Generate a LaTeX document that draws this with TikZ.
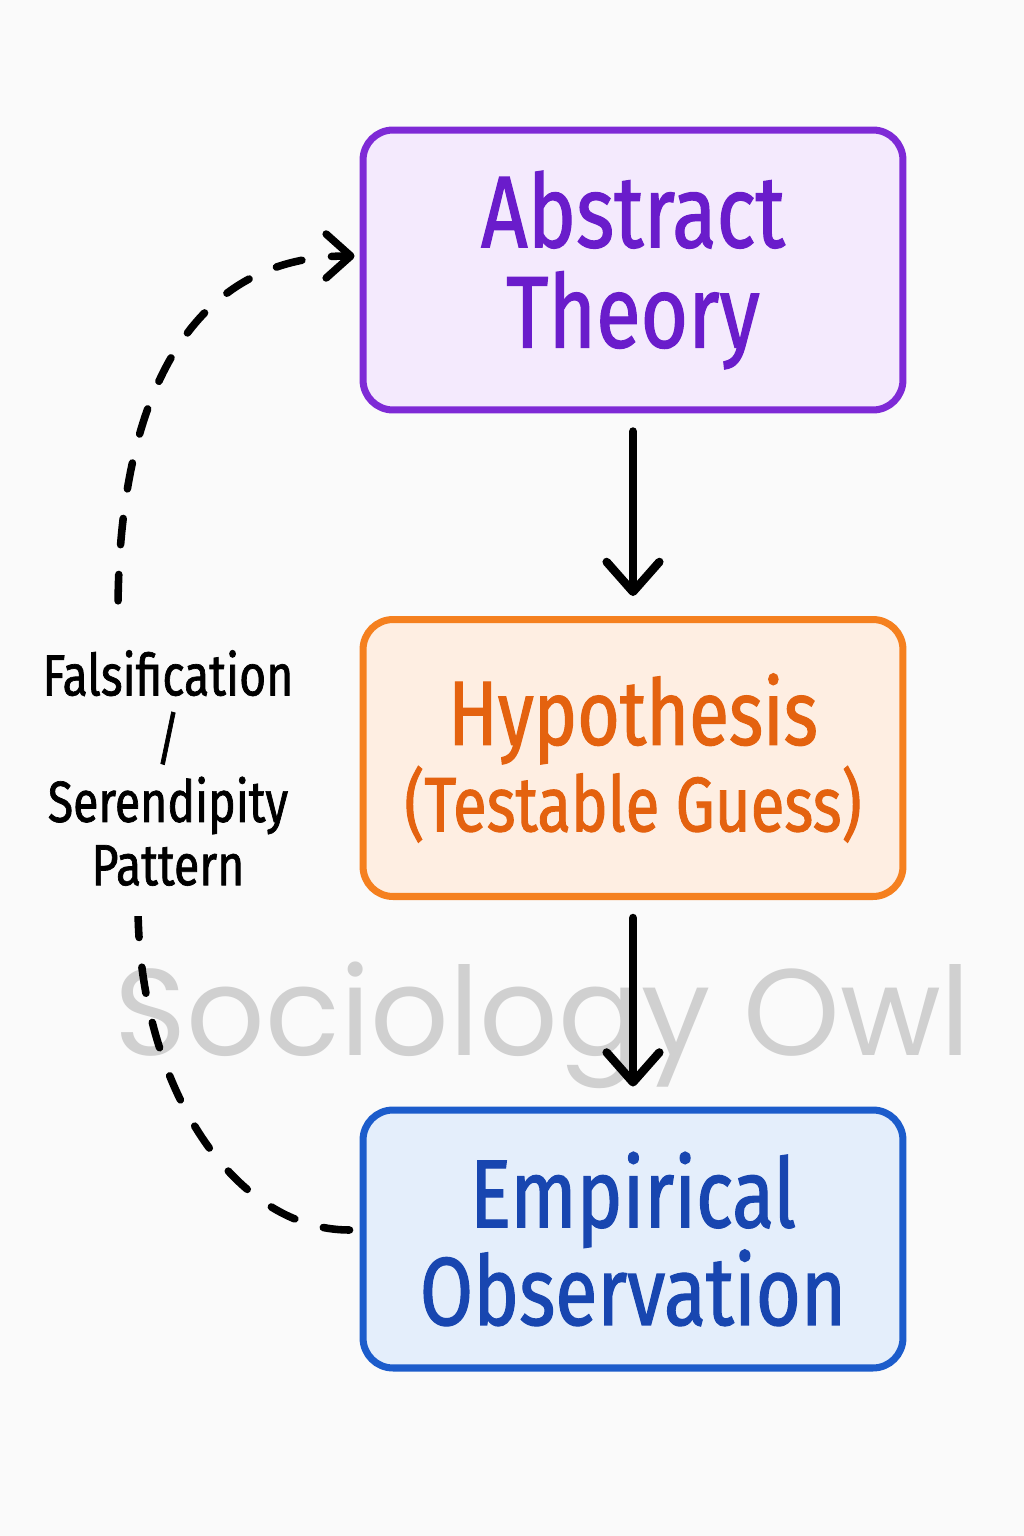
\documentclass[tikz,border=0pt]{standalone}
\usepackage{fontspec}
\setmainfont{Fira Sans}[FakeStretch=0.8, FakeBold=1.2]
\newfontfamily\owlfont{Poppins}
\usetikzlibrary{arrows.meta}
\definecolor{bg}{HTML}{FAFAFA}
\definecolor{theoryline}{HTML}{7E2AD6}
\definecolor{theorytext}{HTML}{6A1CCB}
\definecolor{theoryfill}{HTML}{F4EAFD}
\definecolor{hypoline}{HTML}{F5801F}
\definecolor{hypotext}{HTML}{E4620F}
\definecolor{hypofill}{HTML}{FEEEE2}
\definecolor{obsline}{HTML}{1C5CCB}
\definecolor{obstext}{HTML}{1846B0}
\definecolor{obsfill}{HTML}{E4EEFB}
\definecolor{owlgray}{HTML}{D0D0D0}

\begin{document}
\begin{tikzpicture}[x=0.02cm, y=-0.02cm,
  box/.style={draw, line width=4pt, rounded corners=0.6cm, minimum width=10.8cm, align=center},
  flow/.style={line width=4.8pt, line cap=round, -{Straight Barb[length=17pt,width=30pt,line cap=round,line join=round]}, shorten <=0.36cm, shorten >=0.4cm},
  loop/.style={line width=4.3pt, line cap=round, dash pattern=on 15pt off 17pt, -{Straight Barb[length=14pt,width=25pt,line cap=round,line join=round]}}]
\path [use as bounding box, fill=bg] (0,0) rectangle (1024,1536);
\node [font=\owlfont\fontsize{70}{70}\selectfont, text=owlgray, anchor=base] (owl) at (543,1055) {Sociology Owl};
\node [box, minimum height=5.6cm, color=theoryline, fill=theoryfill, text=theorytext, font=\fontsize{58}{57}\selectfont] (theory) at (633,270) {Abstract\\Theory};
\node [box, minimum height=5.54cm, color=hypoline, fill=hypofill, text=hypotext] (hypo) at (633,758) {{\fontsize{52}{56}\selectfont Hypothesis}\\{\fontsize{44}{56}\selectfont (Testable Guess)}};
\node [box, minimum height=5.16cm, color=obsline, fill=obsfill, text=obstext, font=\fontsize{55}{53}\selectfont] (obs) at (633,1239) {Empirical\\Observation};
\draw [flow] (theory.south) -- (hypo.north);
\draw [flow] (hypo.south) -- (obs.north);
\draw [loop, shorten <=0.2cm, shorten >=0.1cm] ([yshift=0.18cm]obs.west) .. controls (233,1230) and (138,1084) .. (138,905) -- (118,612) .. controls (118,416) and (179,256) .. ([yshift=0.28cm]theory.west);
\node [fill=bg, inner xsep=2pt, inner ysep=0.6cm, align=center, font=\fontsize{33}{36}\selectfont] (why) at (168,768) {Falsification\\/\\Serendipity\\Pattern};
\end{tikzpicture}
\end{document}
